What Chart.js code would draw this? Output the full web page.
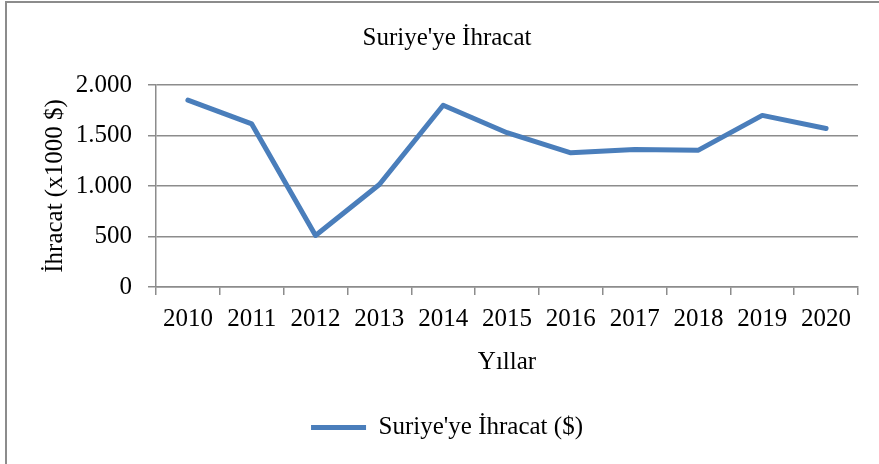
<!DOCTYPE html>
<html>
<head>
<meta charset="utf-8">
<script src="https://cdn.jsdelivr.net/npm/chart.js@4.4.1/dist/chart.umd.min.js"></script>
<style>
  html, body { margin: 0; padding: 0; background: #ffffff; overflow: hidden; width: 879px; height: 464px; }
  #frame { position: absolute; left: 5px; top: 1px; width: 920px; height: 520px; border: 2px solid #8c8c8c; box-sizing: border-box; }
  #c { position: absolute; left: 0; top: 0; }
</style>
</head>
<body>
<div id="frame"></div>
<canvas id="c" width="894" height="464"></canvas>
<script>
const categories = ['2010', '2011', '2012', '2013', '2014', '2015', '2016', '2017', '2018', '2019', '2020'];
const exportValues = [1850, 1615, 510, 1015, 1800, 1528, 1329, 1362, 1355, 1699, 1570];
const yTicks = [0, 500, 1000, 1500, 2000];
const chartTitle = "Suriye'ye İhracat";
const seriesLabel = "Suriye'ye İhracat ($)";
const yTitle = 'İhracat (x1000 $)';
const xTitle = 'Yıllar';

const FONT = "'Liberation Serif', 'Times New Roman', serif";
const GRID = '#8c8c8c';
const FS = 25;

function trNumber(v) {
  return String(v).replace(/\B(?=(\d{3})+(?!\d))/g, '.');
}

new Chart(document.getElementById('c'), {
  type: 'line',
  data: {
    labels: categories,
    datasets: [{
      label: seriesLabel,
      data: exportValues,
      borderColor: '#4a7ebb',
      backgroundColor: '#4a7ebb',
      borderWidth: 5,
      borderJoinStyle: 'round',
      borderCapStyle: 'round',
      tension: 0,
      pointRadius: 0,
      pointHoverRadius: 0,
      pointStyle: 'line',
      fill: false
    }]
  },
  options: {
    responsive: false,
    animation: false,
    devicePixelRatio: 1,
    layout: { padding: { left: 36, right: 36, top: 0, bottom: 14 } },
    plugins: {
      title: {
        display: true,
        text: chartTitle,
        color: '#000',
        font: { family: FONT, size: FS, weight: 'normal' },
        padding: { top: 23, bottom: 32 }
      },
      legend: {
        display: true,
        position: 'bottom',
        labels: {
          color: '#000',
          font: { family: FONT, size: FS },
          usePointStyle: true,
          pointStyle: 'line',
          pointStyleWidth: 55,
          padding: 10
        }
      },
      tooltip: { enabled: false }
    },
    scales: {
      x: {
        offset: true,
        grid: { display: true, drawOnChartArea: false, drawTicks: true, tickLength: 8, offset: true, color: GRID, lineWidth: 1.5 },
        border: { display: true, color: GRID, width: 1.5 },
        ticks: { color: '#000', font: { family: FONT, size: FS }, padding: 9, maxRotation: 0, autoSkip: false },
        title: { display: true, text: xTitle, color: '#000', font: { family: FONT, size: FS }, padding: { top: 4, bottom: 28 } }
      },
      y: {
        min: 0,
        max: 2000,
        afterBuildTicks: (scale) => { scale.ticks = yTicks.map(v => ({ value: v })); },
        afterFit: (scale) => { scale.width = 120; },
        grid: { display: true, drawTicks: true, tickLength: 8, color: GRID, lineWidth: 1.5 },
        border: { display: true, color: GRID, width: 1.5 },
        ticks: { color: '#000', font: { family: FONT, size: FS }, padding: 16, callback: (v) => trNumber(v) },
        title: { display: true, text: yTitle, color: '#000', font: { family: FONT, size: FS }, padding: { top: 4, bottom: 0 } }
      }
    }
  }
});
</script>
</body>
</html>
